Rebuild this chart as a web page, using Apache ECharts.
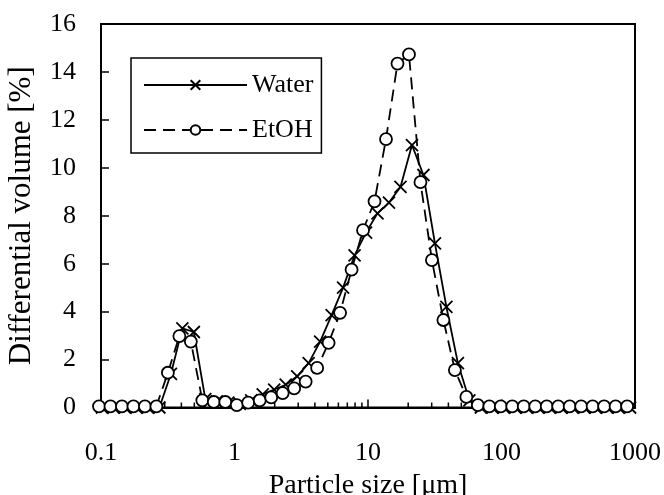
<!DOCTYPE html>
<html><head><meta charset="utf-8">
<script src="https://cdn.jsdelivr.net/npm/echarts@6/dist/echarts.min.js"></script>
<style>html,body{margin:0;padding:0;background:#fff}#c{width:664px;height:495px}</style>
</head><body><div id="c"></div><script>
// Particle sizes [um] for each series
const sizeWater = [0.1017,0.1241,0.1511,0.1843,0.2246,0.2738,0.3338,0.4069,0.4960,0.6046,0.7370,0.8984,1.095,1.334,1.627,1.983,2.418,2.948,3.593,4.380,5.339,6.508,7.933,9.669,11.78,14.36,17.51,21.35,26.02,31.72,38.66,47.13,57.45,70.03,85.37,104.1,126.8,154.6,188.5,229.8,280.0,341.4,416.1,507.3,618.4,753.7,918.9];
const volWater = [0,0,0,0,0,0,1.4,3.3,3.15,0.35,0.25,0.2,0.15,0.3,0.55,0.75,0.95,1.3,1.85,2.75,3.85,5.0,6.35,7.3,8.1,8.55,9.2,10.95,9.7,6.85,4.2,1.85,0.3,0,0,0,0,0,0,0,0,0,0,0,0,0,0];
const sizeEtOH = [0.0966,0.1178,0.1435,0.1750,0.2133,0.2600,0.3170,0.3864,0.4710,0.5741,0.6998,0.8531,1.040,1.267,1.545,1.883,2.296,2.799,3.412,4.159,5.070,6.180,7.533,9.181,11.19,13.64,16.63,20.27,24.71,30.12,36.71,44.75,54.55,66.50,81.06,98.81,120.4,146.8,179.0,218.2,265.9,324.2,395.1,481.7,587.2,715.7,872.6];
const volEtOH = [0.05,0.05,0.05,0.05,0.05,0.05,1.45,2.98,2.75,0.3,0.23,0.23,0.1,0.2,0.3,0.42,0.6,0.8,1.08,1.65,2.7,3.95,5.75,7.4,8.6,11.2,14.35,14.73,9.4,6.15,3.65,1.56,0.44,0.1,0.05,0.05,0.05,0.05,0.05,0.05,0.05,0.05,0.05,0.05,0.05,0.05,0.05];
// Axis tick labels and minor tick positions on the log x axis
const xTickLabels = ['0.1','1','10','100','1000'];
const minorTicks = [0.2,0.3,0.4,0.5,0.6,0.7,0.8,0.9,2,3,4,5,6,7,8,9,20,30,40,50,60,70,80,90,200,300,400,500,600,700,800,900];
const seriesNames = ['Water','EtOH'];

const FONT = 'Liberation Serif';
const pairs = (xs, ys) => xs.map((x, i) => [x, ys[i]]);
const crossPath = 'path://M0,0L12,12M12,0L0,12';
function xLabel(v) { const i = Math.round(Math.log10(v)) + 1; return (i >= 0 && i < xTickLabels.length) ? xTickLabels[i] : ''; }

const chart = echarts.init(document.getElementById('c'), null, {renderer:'canvas'});
chart.setOption({
  animation: false,
  backgroundColor: '#fff',
  grid: {left: 101, right: 29, top: 24, bottom: 87.5, containLabel: false, outerBoundsMode: 'none',
    show: true, borderColor: '#000', borderWidth: 2, backgroundColor: 'transparent'},
  xAxis: {
    type: 'log', logBase: 10, min: 0.1, max: 1000,
    name: 'Particle size [\u03bcm]', nameLocation: 'middle', nameGap: 57,
    nameTextStyle: {fontFamily: FONT, fontSize: 28, color: '#000'},
    axisLine: {lineStyle: {color: '#000', width: 2}},
    axisTick: {inside: true, length: 8, lineStyle: {color: '#000', width: 1.5}},
    axisLabel: {fontFamily: FONT, fontSize: 26, color: '#000', margin: 33, formatter: xLabel},
    splitLine: {show: false}
  },
  yAxis: {
    type: 'value', min: 0, max: 16, interval: 2,
    name: 'Differential volume [%]', nameLocation: 'middle', nameGap: 64,
    nameTextStyle: {fontFamily: FONT, fontSize: 31, color: '#000'},
    axisLine: {show: true, lineStyle: {color: '#000', width: 2}},
    axisTick: {show: true, inside: true, length: 8, lineStyle: {color: '#000', width: 1.5}},
    axisLabel: {fontFamily: FONT, fontSize: 26, color: '#000', margin: 25},
    splitLine: {show: false}
  },
  legend: {
    data: seriesNames, orient: 'vertical', left: 131, top: 58,
    itemWidth: 103, itemHeight: 12, itemGap: 19,
    padding: [14, 8, 10, 12],
    borderColor: '#000', borderWidth: 1.5,
    textStyle: {fontFamily: FONT, fontSize: 26, color: '#000', lineHeight: 26}
  },
  series: [
    {
      name: seriesNames[0], type: 'line', data: pairs(sizeWater, volWater),
      clip: false, symbol: crossPath, symbolSize: 12,
      lineStyle: {color: '#000', width: 1.8, type: 'solid'},
      itemStyle: {color: '#000', borderColor: '#000', borderWidth: 1.8},
      z: 3
    },
    {
      name: seriesNames[1], type: 'line', data: pairs(sizeEtOH, volEtOH),
      clip: false, symbol: 'circle', symbolSize: 12,
      lineStyle: {color: '#000', width: 1.8, type: [12, 7]},
      itemStyle: {color: '#fff', borderColor: '#000', borderWidth: 1.8},
      z: 4
    },
    {
      name: 'minorTicks', type: 'custom', silent: true, z: 2,
      data: minorTicks.map(v => [v, 0]),
      renderItem: (params, api) => {
        const p = api.coord([api.value(0), 0]);
        return {type: 'line', shape: {x1: p[0], y1: p[1], x2: p[0], y2: p[1] - 5},
          style: {stroke: '#000', lineWidth: 1.5}};
      }
    }
  ]
});
</script></body></html>
